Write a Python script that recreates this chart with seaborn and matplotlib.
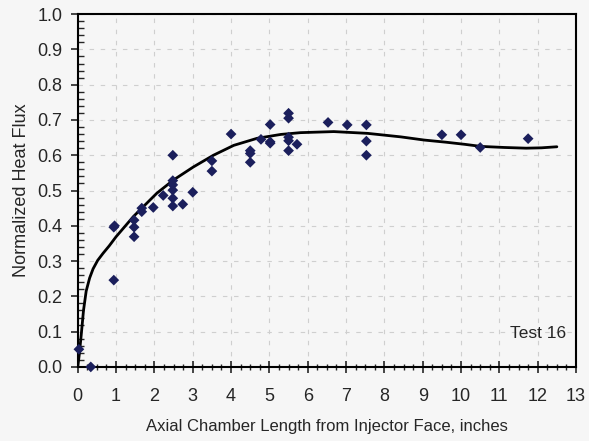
import numpy as np
import pandas as pd
import matplotlib
matplotlib.use('Agg')
import matplotlib.pyplot as plt
import seaborn as sns
from matplotlib.ticker import MultipleLocator

# datos medidos (Test 16)
x_pts = [0.03, 0.34, 0.94, 0.94, 0.96, 1.47, 1.47, 1.47, 1.67, 1.67, 1.97, 2.23,
         2.48, 2.48, 2.48, 2.48, 2.48, 2.48, 2.74, 3.0, 3.5, 3.5, 4.0,
         4.5, 4.5, 4.5, 4.78, 5.02, 5.02, 5.02, 5.5, 5.5, 5.5, 5.5, 5.5, 5.72,
         6.53, 7.03, 7.53, 7.53, 7.53, 9.5, 10.0, 10.5, 11.75]
y_pts = [0.05, 0.0, 0.246, 0.396, 0.40, 0.416, 0.396, 0.369, 0.45, 0.44, 0.452, 0.486,
         0.60, 0.528, 0.516, 0.501, 0.478, 0.456, 0.461, 0.495, 0.584, 0.555, 0.66,
         0.613, 0.605, 0.58, 0.645, 0.687, 0.638, 0.634, 0.719, 0.705, 0.651, 0.641, 0.613, 0.631,
         0.693, 0.686, 0.686, 0.640, 0.600, 0.658, 0.658, 0.622, 0.647]

# curva de ajuste
x_fit = [0.0, 0.04, 0.09, 0.15, 0.22, 0.31, 0.4, 0.52, 0.66, 0.82, 1.0, 1.45, 2.06,
         2.5, 3.02, 3.54, 4.07, 4.68, 5.3, 5.81, 6.68, 7.56, 8.43, 9.04, 9.6, 10.09,
         10.52, 11.13, 11.7, 12.1, 12.5]
y_fit = [0.0, 0.035, 0.09, 0.16, 0.215, 0.252, 0.278, 0.302, 0.322, 0.343, 0.369,
         0.426, 0.492, 0.530, 0.567, 0.60, 0.628, 0.648, 0.659, 0.664, 0.667, 0.662,
         0.652, 0.643, 0.637, 0.631, 0.625, 0.622, 0.620, 0.621, 0.624]

df_pts = pd.DataFrame({'x': x_pts, 'y': y_pts})
df_fit = pd.DataFrame({'x': x_fit, 'y': y_fit})

sns.set_style('white')
plt.rcParams['font.family'] = ['Liberation Sans', 'DejaVu Sans']

fig = plt.figure(figsize=(5.89, 4.41), dpi=100, facecolor='#f6f6f6')
ax = fig.add_axes([0.132, 0.168, 0.846, 0.8])
ax.set_facecolor('#f6f6f6')

sns.lineplot(data=df_fit, x='x', y='y', ax=ax, color='black', linewidth=2, sort=False)
sns.scatterplot(data=df_pts, x='x', y='y', ax=ax, marker='D', s=30, color='#1b1f5c',
                edgecolor='none', zorder=3, clip_on=False)

ax.set_xlim(0, 13)
ax.set_ylim(0, 1.0)
ax.xaxis.set_major_locator(MultipleLocator(1))
ax.xaxis.set_minor_locator(MultipleLocator(0.25))
ax.yaxis.set_major_locator(MultipleLocator(0.1))
ax.yaxis.set_minor_locator(MultipleLocator(0.02))
ax.yaxis.set_major_formatter(matplotlib.ticker.FormatStrFormatter('%.1f'))

ax.grid(True, which='major', linestyle=(0, (4, 6)), color='#cfcfcf', linewidth=0.8)
ax.tick_params(axis='x', which='major', direction='inout', length=8, width=1.2,
               labelsize=13, bottom=True, pad=11)
ax.tick_params(axis='x', which='minor', direction='inout', length=5, width=1, bottom=True)
ax.tick_params(axis='y', which='major', direction='out', length=5, width=1.2,
               labelsize=13, left=True, pad=6)
ax.tick_params(axis='y', which='minor', direction='in', length=4, width=1, left=True)
for s in ax.spines.values():
    s.set_color('black')
    s.set_linewidth(1.5)

ax.set_xlabel('Axial Chamber Length from Injector Face, inches', fontsize=12, labelpad=10)
ax.set_ylabel('Normalized Heat Flux', fontsize=13, labelpad=5)
ax.text(12.75, 0.095, 'Test 16', ha='right', va='center', fontsize=12.5)

fig.savefig('out.png', dpi=100, facecolor=fig.get_facecolor())
